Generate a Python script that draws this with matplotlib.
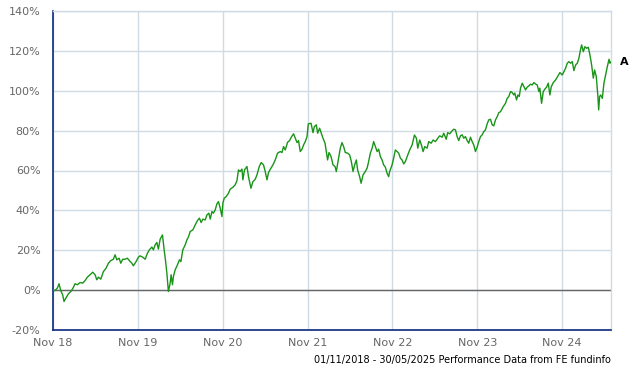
import matplotlib
matplotlib.use("Agg")
import matplotlib.pyplot as plt
import matplotlib.ticker as mticker
import pandas as pd
import numpy as np

# time since 01/11/2018 in years
t_years = [
    0.000, 0.024, 0.051, 0.071, 0.091, 0.114, 0.130, 0.153, 0.181, 0.209, 0.232, 0.260, 0.287, 0.319,
    0.350, 0.378, 0.405, 0.437, 0.468, 0.496, 0.516, 0.535, 0.563, 0.594, 0.625, 0.653, 0.681, 0.711,
    0.732, 0.752, 0.779, 0.799, 0.822, 0.850, 0.877, 0.900, 0.929, 0.947, 0.979, 1.006,
    1.027, 1.058, 1.086, 1.113, 1.136, 1.165, 1.183, 1.204, 1.224, 1.242, 1.263, 1.290, 1.310, 1.325,
    1.342, 1.360, 1.381, 1.392, 1.408, 1.419, 1.440, 1.467, 1.490, 1.507, 1.530, 1.558, 1.578, 1.596,
    1.617, 1.648, 1.676, 1.703, 1.726, 1.746, 1.766, 1.794, 1.814, 1.837, 1.853, 1.873, 1.891, 1.912,
    1.932, 1.950, 1.971, 1.991, 2.002, 2.018, 2.041, 2.068,
    2.088, 2.120, 2.147, 2.168, 2.186, 2.206, 2.227, 2.238, 2.257, 2.286, 2.304, 2.333, 2.356, 2.383,
    2.404, 2.431, 2.454, 2.481, 2.501, 2.522, 2.540, 2.569, 2.592, 2.619, 2.647, 2.678, 2.699, 2.717,
    2.737, 2.765, 2.788, 2.808, 2.835, 2.855, 2.876, 2.894, 2.914, 2.935, 2.953, 2.973, 2.994, 3.009,
    3.041, 3.064, 3.080, 3.103, 3.119, 3.142,
    3.182, 3.206, 3.221, 3.236, 3.253, 3.277, 3.300, 3.324, 3.339, 3.366, 3.386, 3.406, 3.425, 3.445,
    3.473, 3.496, 3.516, 3.536, 3.555, 3.575, 3.590, 3.614, 3.631, 3.654, 3.681, 3.702, 3.720, 3.740,
    3.761, 3.779, 3.799, 3.820, 3.838, 3.858, 3.878, 3.897, 3.917, 3.937, 3.956, 3.968, 3.996, 4.015,
    4.035, 4.056, 4.074, 4.094, 4.114, 4.133, 4.153, 4.181,
    4.204, 4.232, 4.260, 4.283, 4.299, 4.322, 4.342, 4.362, 4.381, 4.409, 4.428, 4.457, 4.480, 4.507,
    4.535, 4.558, 4.586, 4.605, 4.634, 4.652, 4.676, 4.696, 4.723, 4.743, 4.763, 4.782, 4.802, 4.822,
    4.841, 4.861, 4.881, 4.900, 4.920, 4.940, 4.959, 4.979, 4.999, 5.018, 5.038, 5.058, 5.077, 5.097,
    5.117, 5.136, 5.156, 5.176, 5.195, 5.215, 5.235, 5.254,
    5.274, 5.306, 5.333, 5.353, 5.372, 5.392, 5.412, 5.431, 5.443, 5.463, 5.479, 5.495, 5.510, 5.530,
    5.549, 5.569, 5.589, 5.608, 5.628, 5.648, 5.667, 5.687, 5.707, 5.726, 5.738, 5.758, 5.778, 5.797,
    5.817, 5.837, 5.856, 5.873, 5.896, 5.923, 5.950, 5.974, 6.002, 6.021, 6.041, 6.061, 6.080, 6.100,
    6.120, 6.139, 6.159, 6.179, 6.198, 6.218, 6.230, 6.250, 6.269, 6.289, 6.309, 6.328, 6.348, 6.368,
    6.383, 6.403, 6.422, 6.431, 6.442, 6.454, 6.474, 6.493, 6.513, 6.533, 6.553, 6.564, 6.578,
]

# cumulative performance, %
perf = [
    0.0, -0.2, 1.0, 3.2, -0.2, -2.4, -5.7, -3.9, -1.9, -0.7, 0.7, 3.2, 2.7, 3.8,
    3.5, 4.8, 6.5, 7.7, 9.0, 7.7, 5.2, 6.5, 5.5, 9.3, 11.0, 13.5, 14.8, 15.5,
    17.7, 15.2, 16.0, 13.5, 15.5, 15.5, 16.0, 14.8, 13.5, 12.2, 14.3, 16.5,
    17.2, 16.5, 15.5, 18.5, 20.2, 21.6, 20.2, 22.7, 23.9, 20.6, 25.6, 27.7, 20.2, 15.2,
    8.5, -0.7, 3.5, 7.7, 2.7, 6.8, 10.2, 12.7, 15.2, 14.3, 20.2, 22.7, 25.2, 26.6,
    29.4, 30.2, 32.7, 34.9, 36.1, 33.9, 35.6, 35.2, 37.7, 38.6, 35.6, 39.4, 38.6, 40.3,
    43.3, 44.4, 41.1, 36.9, 43.6, 46.1, 46.9, 48.6,
    50.6, 51.6, 52.8, 54.9, 60.3, 59.5, 60.7, 55.3, 60.3, 62.0, 56.9, 51.1, 54.4, 55.6,
    57.8, 62.0, 64.0, 62.8, 59.5, 55.3, 59.0, 61.2, 62.8, 65.3, 68.7, 69.5, 69.0, 72.0,
    70.3, 74.2, 75.0, 76.7, 78.4, 76.2, 74.0, 75.0, 69.5, 70.7, 72.8, 74.5, 77.0, 83.4,
    83.7, 79.0, 82.0, 82.9, 78.7, 81.2,
    76.2, 73.7, 69.5, 65.3, 69.0, 67.0, 62.8, 62.0, 59.5, 66.2, 71.2, 74.0, 72.0, 69.0,
    68.7, 67.8, 64.5, 59.5, 62.8, 65.3, 60.3, 56.9, 53.6, 57.8, 59.5, 61.2, 64.5, 68.7,
    71.2, 74.5, 72.0, 69.5, 70.7, 67.0, 65.3, 62.8, 61.7, 58.7, 56.9, 59.5, 62.8, 66.2,
    70.3, 69.5, 68.7, 66.2, 65.3, 63.3, 64.5, 67.8,
    70.3, 72.8, 77.8, 76.2, 71.2, 75.3, 72.8, 69.5, 72.0, 71.2, 74.5, 73.7, 75.3, 74.5,
    76.2, 77.4, 76.7, 78.7, 75.7, 79.0, 78.4, 79.5, 80.7, 80.4, 77.0, 75.0, 77.4, 77.9,
    76.2, 77.0, 75.0, 73.7, 76.7, 74.5, 72.8, 69.5, 71.7, 74.5, 77.0, 77.9, 79.5, 80.4,
    83.4, 85.4, 85.7, 82.9, 82.4, 85.4, 87.0, 89.0,
    89.5, 92.0, 93.7, 96.2, 97.1, 99.6, 99.1, 97.9, 98.8, 95.4, 97.9, 97.1, 101.3, 103.8,
    102.1, 100.4, 101.8, 102.4, 103.3, 102.9, 104.1, 103.4, 102.9, 99.6, 101.3, 93.7, 99.6, 100.8,
    101.8, 103.8, 97.9, 102.1, 104.1, 105.4, 107.4, 109.1, 107.9, 109.6, 111.3, 113.8, 114.6, 113.8,
    114.6, 110.1, 112.9, 113.8, 116.3, 120.8, 123.0, 119.6, 122.1, 121.3, 121.8, 118.0, 112.9, 106.3,
    110.4, 107.1, 97.1, 90.4, 97.1, 97.9, 96.2, 103.8, 107.9, 112.1, 115.8, 113.8, 114.6,
]

start_date = "2018-11-01"
end_date = "2025-05-30"
series_label = "A"
y_ticks = [-20, 0, 20, 40, 60, 80, 100, 120, 140]
x_tick_dates = ["2018-11-01", "2019-11-01", "2020-11-01", "2021-11-01",
                "2022-11-01", "2023-11-01", "2024-11-01"]
x_tick_labels = ["Nov 18", "Nov 19", "Nov 20", "Nov 21", "Nov 22", "Nov 23", "Nov 24"]
footer = "01/11/2018 - 30/05/2025 Performance Data from FE fundinfo"

dates = pd.Timestamp(start_date) + pd.to_timedelta(np.array(t_years) * 365.25, unit="D")

fig = plt.figure(figsize=(6.4, 3.7), dpi=100)
ax = fig.add_axes([53 / 640, 1 - 330 / 370, (611 - 53) / 640, (330 - 11) / 370])
ax.set_axisbelow(True)

grid_c = "#cfdbe5"
ax.set_xlim(pd.Timestamp(start_date), pd.Timestamp(end_date))
ax.set_ylim(-20, 140)
ax.set_yticks(y_ticks)
ax.yaxis.set_major_formatter(mticker.FuncFormatter(lambda v, p: f"{int(v)}%"))
ax.set_xticks(pd.to_datetime(x_tick_dates))
ax.set_xticklabels(x_tick_labels)

ax.grid(True, color=grid_c, linewidth=1.0)
ax.axhline(0, color="#666666", linewidth=1.0, zorder=2)
ax.plot(dates, perf, color="#189418", linewidth=1.0, zorder=3)

for s in ["top", "right"]:
    ax.spines[s].set_color(grid_c)
    ax.spines[s].set_linewidth(1.0)
ax.spines["left"].set_color("#0a2a80")
ax.spines["bottom"].set_color("#0a2a80")
ax.spines["left"].set_linewidth(1.2)
ax.spines["bottom"].set_linewidth(1.2)

ax.tick_params(axis="both", length=0, labelsize=8, labelcolor="#666666")
ax.tick_params(axis="y", pad=9)
ax.tick_params(axis="x", pad=6)

ax.annotate(series_label, xy=(dates[-1], perf[-1]), xytext=(6.5, 0),
            textcoords="offset points", ha="left", va="center",
            fontsize=8, fontweight="bold", color="black")

fig.text(611 / 640, 1 - 360 / 370, footer, ha="right", va="center",
         fontsize=7, color="black")

fig.savefig("out.png", dpi=100)
